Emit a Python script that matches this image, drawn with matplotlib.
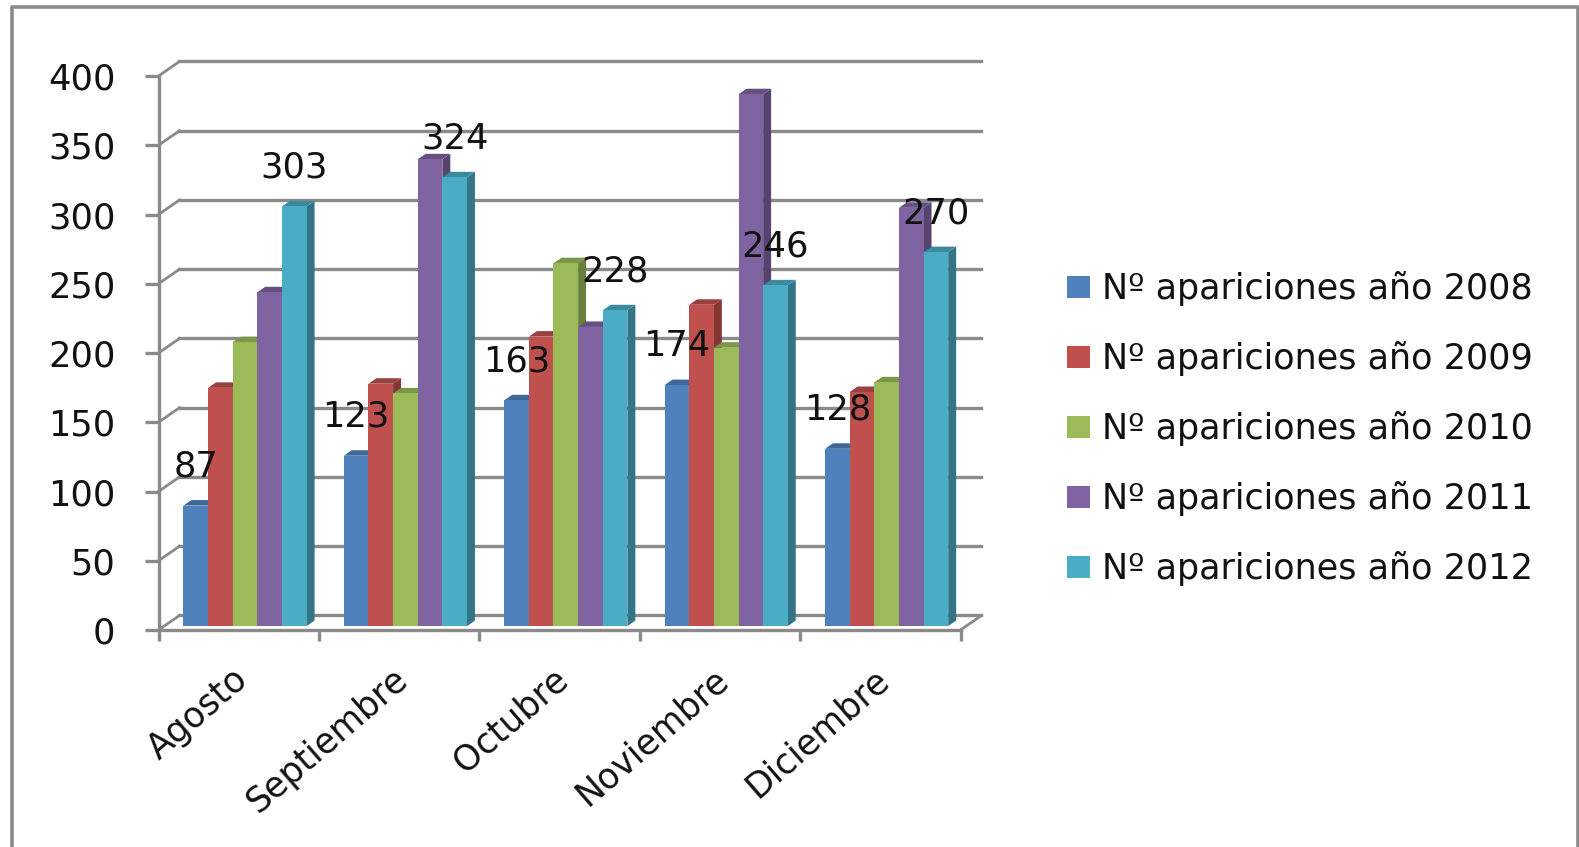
import matplotlib
matplotlib.use('Agg')
import matplotlib.pyplot as plt
from matplotlib.lines import Line2D
from matplotlib.patches import Patch, Polygon
from matplotlib.colors import to_rgb
from matplotlib.transforms import ScaledTranslation

months = ['Agosto', 'Septiembre', 'Octubre', 'Noviembre', 'Diciembre']
series_names = ['Nº apariciones año 2008', 'Nº apariciones año 2009', 'Nº apariciones año 2010',
                'Nº apariciones año 2011', 'Nº apariciones año 2012']
v2008 = [87, 123, 163, 174, 128]
v2009 = [172, 175, 209, 232, 169]
v2010 = [205, 168, 262, 201, 176]
v2011 = [241, 337, 216, 384, 302]
v2012 = [303, 324, 228, 246, 270]
y_ticks = [0, 50, 100, 150, 200, 250, 300, 350, 400]
colors = ['#4F81BD', '#C0504D', '#9BBB59', '#8064A2', '#4BACC6']

W, H = 1579, 847
GREY = '#8a8a8a'
FS = 25.4

# fake 3d depth, in data units
DEPTH_X = 0.1306
DEPTH_Y = 10.47
D0, D1 = 0.27, 0.65
GAP = 0.12
BAR_W = 0.1536


def shade(c, k):
    return tuple(k * a for a in to_rgb(c))


fig = plt.figure(figsize=(W / 100, H / 100), dpi=100, facecolor='white')
ax = fig.add_axes([158.5 / W, 1 - 630 / H, 802 / W, 554 / H])
ax.set_xlim(0, 5)
ax.set_ylim(0, 400)
ax.patch.set_visible(False)

# outer frame, open at the bottom
frame_x = [12 / W, 12 / W, 1577.5 / W, 1577.5 / W]
frame_y = [0, 1 - 7 / H, 1 - 7 / H, 0]
fig.add_artist(Line2D(frame_x, frame_y, color=GREY, lw=2.6))

# back wall gridlines and the side wall diagonals
for t in y_ticks:
    ax.plot([DEPTH_X, 5 + DEPTH_X], [t + DEPTH_Y, t + DEPTH_Y], color=GREY, lw=2.4, zorder=1, clip_on=False)
    ax.plot([0, DEPTH_X], [t, t + DEPTH_Y], color=GREY, lw=2.0, zorder=1, clip_on=False)
ax.plot([5, 5 + DEPTH_X], [0, DEPTH_Y], color=GREY, lw=2.0, zorder=1, clip_on=False)

# bars
all_values = [v2008, v2009, v2010, v2011, v2012]
z = 3
for m in range(len(months)):
    for s, vals in enumerate(all_values):
        v = vals[m]
        c = colors[s]
        x0 = m + GAP + s * BAR_W + D0 * DEPTH_X
        x1 = x0 + BAR_W
        y0 = D0 * DEPTH_Y
        y1 = y0 + v
        dx = (D1 - D0) * DEPTH_X
        dy = (D1 - D0) * DEPTH_Y
        ax.add_patch(Polygon([(x1, y0), (x1 + dx, y0 + dy), (x1 + dx, y1 + dy), (x1, y1)],
                             facecolor=shade(c, 0.68), edgecolor='none', zorder=z, clip_on=False))
        ax.add_patch(Polygon([(x0, y1), (x1, y1), (x1 + dx, y1 + dy), (x0 + dx, y1 + dy)],
                             facecolor=shade(c, 0.8), edgecolor='none', zorder=z, clip_on=False))
        ax.add_patch(Polygon([(x0, y0), (x1, y0), (x1, y1), (x0, y1)],
                             facecolor=c, edgecolor='none', zorder=z + 0.5, clip_on=False))
        z += 1

# data labels only on first and last series
for s in [0, 4]:
    for m, v in enumerate(all_values[s]):
        xc = m + GAP + (s + 0.5) * BAR_W + D0 * DEPTH_X
        ax.annotate(str(v), (xc, v + D0 * DEPTH_Y), xytext=(0, 28), textcoords='offset points',
                    ha='center', va='center', fontsize=FS, color='#111111', zorder=100)

for side in ['top', 'right']:
    ax.spines[side].set_visible(False)
for side in ['left', 'bottom']:
    ax.spines[side].set_color(GREY)
    ax.spines[side].set_linewidth(2.4)
    ax.spines[side].set_zorder(2)

ax.set_yticks(y_ticks)
ax.tick_params(axis='y', length=10, width=2.4, color=GREY, labelsize=FS, labelcolor='#111111', pad=21)
ax.set_xticks(range(6))
ax.set_xticklabels([])
ax.tick_params(axis='x', which='major', length=8, width=2.4, color=GREY)
ax.set_xticks([m + 0.5 for m in range(5)], minor=True)
ax.set_xticklabels(months, minor=True, rotation=41, ha='right', rotation_mode='anchor',
                   fontsize=25, color='#111111')
ax.tick_params(axis='x', which='minor', length=0, pad=23)
shift = ScaledTranslation(-0.07, 0, fig.dpi_scale_trans)
for lab in ax.get_xticklabels(minor=True):
    lab.set_transform(lab.get_transform() + shift)

handles = [Patch(facecolor=c, edgecolor='none') for c in colors]
ax.legend(handles, series_names, loc='center left', bbox_to_anchor=(1060 / W, 1 - 429 / H),
          bbox_transform=fig.transFigure, frameon=False, fontsize=25.2, handlelength=0.65,
          handleheight=0.6, handletextpad=0.35, labelspacing=1.0, labelcolor='#111111',
          borderpad=0.2, borderaxespad=0)

fig.savefig('out.png', dpi=100)
